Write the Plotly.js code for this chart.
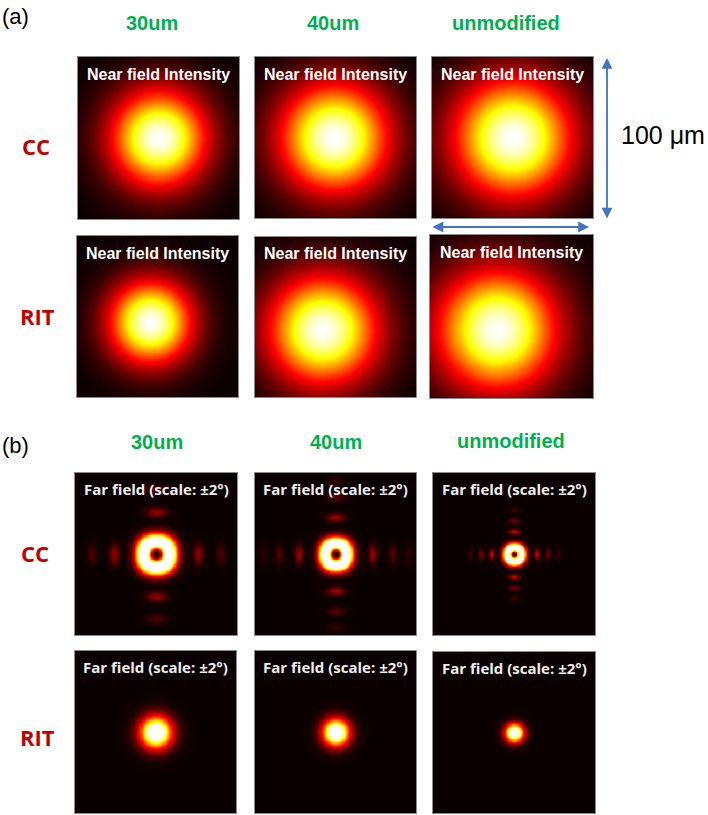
<!DOCTYPE html>
<html>
<head>
<meta charset="utf-8">
<script src="https://cdn.plot.ly/plotly-3.0.1.min.js"></script>
<style>html,body{margin:0;padding:0;background:#fff;}#chart{width:708px;height:815px;}</style>
</head>
<body>
<div id="chart"></div>
<script>
// ---------------- data ----------------
const colLabels = ['30um', '40um', 'unmodified'];
const rowLabels = ['CC', 'RIT'];
const nearTitle = 'Near field Intensity';
const farTitle = 'Far field (scale: \u00b12\u00b0)';
const scaleLabel = '100 \u03bcm';

// near field: window ±50 µm, Gaussian 1/e intensity radius (µm) and centre offsets (µm)
const nearHalfUm = 50;
const nearCC_radius = [29, 33, 36];
const nearCC_cx = [0, -1, 0];
const nearCC_cy = [0, 0, 0];
const nearRIT_radius = [25, 33, 36];
const nearRIT_cx = [-4.6, -8, -9];
const nearRIT_cy = [-3.4, -8, -8];

// far field: window ±2°, CC donut ring radius (deg) / peak, side lobes
const farHalfDeg = 2;
const farCC_ringRadius = [0.31, 0.26, 0.17];
const farCC_ringPeak = [1.3, 1.3, 1.3];
const farCC_lobeOffsets = [[1.04, 1.6], [0.91, 1.41, 1.8], [0.56, 0.83, 1.09]];
const farCC_lobeAmps = [[0.2, 0.09], [0.22, 0.11, 0.05], [0.3, 0.15, 0.07]];
const farCC_lobeLength = [0.25, 0.22, 0.13];
const farCC_lobeThin = [0.12, 0.1, 0.065];
// far field RIT: Gaussian spot radius (deg) / peak
const farRIT_radius = [0.38, 0.32, 0.22];
const farRIT_peak = [1.25, 1.25, 1.25];

// ---------------- build images ----------------
function grid(half, n) { const a = []; for (let i = 0; i < n; i++) a.push(-half + 2 * half * i / (n - 1)); return a; }
function clip(v) { return Math.max(0, Math.min(1, v)); }

function nearImage(r, cx, cy) {
  const g = grid(nearHalfUm, 81);
  const z = g.map(y => g.map(x => clip(Math.exp(-(((x - cx) ** 2 + (y - cy) ** 2) / (r * r))))));
  return { x: g, y: g, z: z };
}
function farCCImage(i) {
  const g = grid(farHalfDeg, 141);
  const w = farCC_ringRadius[i], A = farCC_ringPeak[i];
  const offs = farCC_lobeOffsets[i], amps = farCC_lobeAmps[i];
  const L = farCC_lobeLength[i], T = farCC_lobeThin[i];
  const p = 2.3, q = 1.3;
  const z = g.map(y => g.map(x => {
    const rp = Math.pow(Math.pow(Math.abs(x), p) + Math.pow(Math.abs(y), p), 1 / p);
    const u = rp * rp / (w * w);
    let v = A * Math.pow(u * Math.exp(1 - u), q);
    for (let k = 0; k < offs.length; k++) {
      const d = offs[k], a = amps[k];
      for (const s of [-1, 1]) {
        v += a * Math.exp(-((x - s * d) ** 2) / (T * T) - (y * y) / (L * L));
        v += a * Math.exp(-((y - s * d) ** 2) / (T * T) - (x * x) / (L * L));
      }
    }
    return clip(v);
  }));
  return { x: g, y: g, z: z };
}
function farRITImage(i) {
  const g = grid(farHalfDeg, 141);
  const s = farRIT_radius[i], A = farRIT_peak[i];
  const z = g.map(y => g.map(x => clip(A * Math.exp(-(x * x + y * y) / (s * s)))));
  return { x: g, y: g, z: z };
}

// ---------------- layout helpers ----------------
const W = 708, H = 815;
const px = v => v / W;
const py = v => 1 - v / H;

// panel boxes in pixels [x0, x1, y0, y1]
const boxes = [
  [78, 239, 57, 219], [255, 416, 57, 218], [432, 593, 57, 218],
  [77, 238, 236, 397], [255, 416, 237, 397], [430, 593, 235, 398],
  [75, 237, 473, 635], [255, 416, 473, 635], [433, 595, 473, 635],
  [75, 236, 651, 813], [255, 416, 651, 813], [433, 595, 652, 813]
];

const hot = [[0, 'rgb(11,0,0)'], [0.375, 'rgb(255,0,0)'], [0.75, 'rgb(255,255,0)'], [1, 'rgb(255,255,255)']];

const images = [
  nearImage(nearCC_radius[0], nearCC_cx[0], nearCC_cy[0]),
  nearImage(nearCC_radius[1], nearCC_cx[1], nearCC_cy[1]),
  nearImage(nearCC_radius[2], nearCC_cx[2], nearCC_cy[2]),
  nearImage(nearRIT_radius[0], nearRIT_cx[0], nearRIT_cy[0]),
  nearImage(nearRIT_radius[1], nearRIT_cx[1], nearRIT_cy[1]),
  nearImage(nearRIT_radius[2], nearRIT_cx[2], nearRIT_cy[2]),
  farCCImage(0), farCCImage(1), farCCImage(2),
  farRITImage(0), farRITImage(1), farRITImage(2)
];

const data = [];
const layout = {
  width: W, height: H,
  margin: { l: 0, r: 0, t: 0, b: 0 },
  paper_bgcolor: '#ffffff', plot_bgcolor: '#000000',
  showlegend: false,
  annotations: [], shapes: []
};

images.forEach((im, k) => {
  const n = k + 1;
  const xa = n === 1 ? 'x' : 'x' + n, ya = n === 1 ? 'y' : 'y' + n;
  const half = k < 6 ? nearHalfUm : farHalfDeg;
  data.push({
    type: 'heatmap', x: im.x, y: im.y, z: im.z,
    colorscale: hot, zmin: 0, zmax: 1, showscale: false, zsmooth: 'best',
    hoverinfo: 'skip', xaxis: xa, yaxis: ya
  });
  const b = boxes[k];
  const axBase = { showticklabels: false, ticks: '', showgrid: false, zeroline: false,
    showline: true, mirror: true, linecolor: '#8a8a8a', linewidth: 1, range: [-half, half], fixedrange: true };
  layout[n === 1 ? 'xaxis' : 'xaxis' + n] = Object.assign({}, axBase, { domain: [px(b[0]), px(b[1])], anchor: ya });
  layout[n === 1 ? 'yaxis' : 'yaxis' + n] = Object.assign({}, axBase, { domain: [py(b[3]), py(b[2])], anchor: xa });
  // panel title
  const isNear = k < 6;
  layout.annotations.push({
    xref: 'paper', yref: 'paper', x: px((b[0] + b[1]) / 2), y: py(b[2] + (isNear ? 17 : 16)),
    xanchor: 'center', yanchor: 'middle', showarrow: false,
    text: isNear ? nearTitle : farTitle,
    font: isNear ? { family: 'Liberation Sans, Arial, sans-serif', size: 16, color: '#ffffff', weight: 'bold' }
                 : { family: 'Open Sans, sans-serif', size: 15, color: '#eeeeee', weight: 'bold' }
  });
});

// section labels
const txt = (t, x, y, font, anchor) => layout.annotations.push({
  xref: 'paper', yref: 'paper', x: px(x), y: py(y), xanchor: anchor || 'center', yanchor: 'middle',
  showarrow: false, text: t, font: font
});
const labFont = { family: 'Liberation Sans, Arial, sans-serif', size: 22, color: '#000000' };
txt('(a)', 0, 17, labFont, 'left');
txt('(b)', 0, 446, labFont, 'left');

const greenFont = { family: 'Liberation Sans, Arial, sans-serif', size: 20, color: '#00b050', weight: 'bold' };
const headA = [[152, 23], [333, 23], [506, 23]];
const headB = [[157, 442], [336, 442], [511, 441]];
colLabels.forEach((c, i) => { txt(c, headA[i][0], headA[i][1], greenFont); txt(c, headB[i][0], headB[i][1], greenFont); });

const redFont = { family: 'Open Sans, sans-serif', size: 22, color: '#c00000', weight: 'bold' };
const rowPos = [[36, 146], [37, 316], [35, 553], [37, 737]];
txt(rowLabels[0], rowPos[0][0], rowPos[0][1], redFont);
txt(rowLabels[1], rowPos[1][0], rowPos[1][1], redFont);
txt(rowLabels[0], rowPos[2][0], rowPos[2][1], redFont);
txt(rowLabels[1], rowPos[3][0], rowPos[3][1], redFont);

txt(scaleLabel, 619, 135, { family: 'Liberation Sans, Arial, sans-serif', size: 25, color: '#000000' }, 'left');

// scale arrows (double-headed)
const arrowCol = '#4472c4';
layout.annotations.push({
  xref: 'paper', yref: 'paper', x: px(607), y: py(58), ax: 0, ay: 162,
  showarrow: true, arrowside: 'end+start', arrowhead: 2, arrowsize: 1.2, arrowwidth: 1.8,
  arrowcolor: arrowCol, text: '', standoff: 0, startstandoff: 0
});
layout.annotations.push({
  xref: 'paper', yref: 'paper', x: px(589), y: py(227), ax: -158, ay: 0,
  showarrow: true, arrowside: 'end+start', arrowhead: 2, arrowsize: 1.2, arrowwidth: 1.8,
  arrowcolor: arrowCol, text: '', standoff: 0, startstandoff: 0
});

Plotly.newPlot('chart', data, layout, { staticPlot: true, displayModeBar: false });
</script>
</body>
</html>
